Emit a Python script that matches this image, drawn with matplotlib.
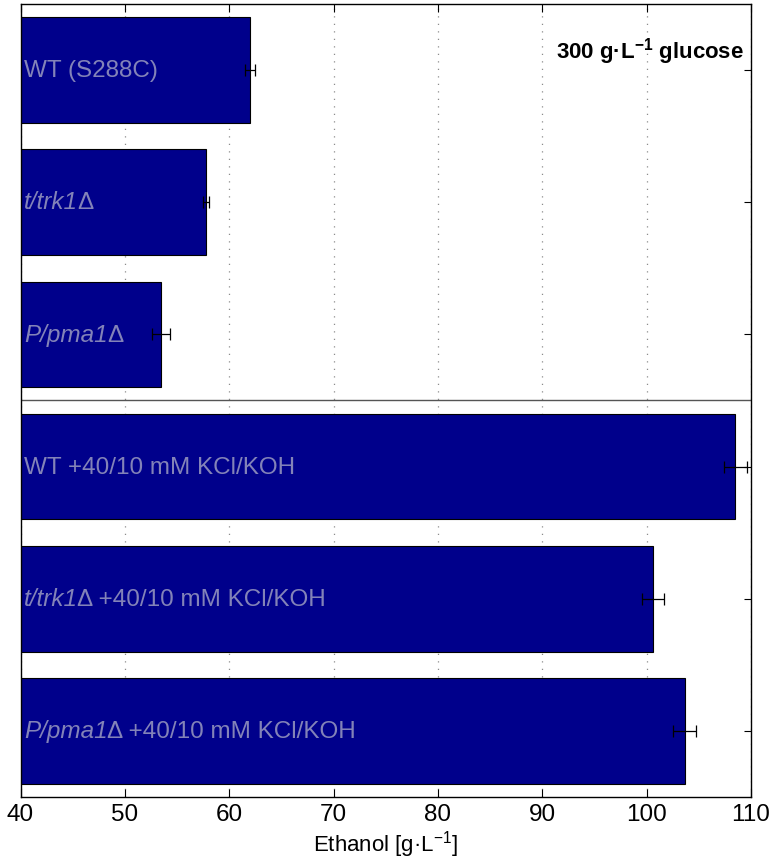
#!/usr/bin/env python3
"""Ethanol titres of the WT and transporter mutants at 300 g/L glucose."""

import matplotlib
matplotlib.use('Agg')
import matplotlib.pyplot as plt
import matplotlib.transforms as mtransforms
import numpy as np

plt.rcParams['font.family'] = ['Liberation Sans', 'DejaVu Sans']
plt.rcParams['mathtext.fontset'] = 'custom'
plt.rcParams['mathtext.rm'] = 'Liberation Sans'
plt.rcParams['mathtext.it'] = 'Liberation Sans:italic'
plt.rcParams['mathtext.bf'] = 'Liberation Sans:bold'

# Strains (top to bottom): italic gene part + upright remainder
STRAIN_ITALIC = ['', 't/trk1', 'P/pma1', '', 't/trk1', 'P/pma1']
STRAIN_PLAIN = [
    'WT (S288C)',
    'Δ',
    'Δ',
    'WT +40/10 mM KCl/KOH',
    'Δ +40/10 mM KCl/KOH',
    'Δ +40/10 mM KCl/KOH',
]
ETHANOL = [62.0, 57.75, 53.45, 108.5, 100.65, 103.65]
ETHANOL_ERR = [0.5, 0.3, 0.85, 1.1, 1.05, 1.1]
XTICKS = [40, 50, 60, 70, 80, 90, 100, 110]

BAR_COLOR = '#00008b'
LABEL_COLOR = '#8383b8'
LABEL_SIZE = 17.5


def main():
    fig = plt.figure(figsize=(7.72, 8.63), dpi=100)
    ax = fig.add_axes([0.0266, 0.0765, 0.9462, 0.9189])

    y = np.arange(1, len(ETHANOL) + 1)
    ax.barh(y, ETHANOL, height=0.8, left=0, color=BAR_COLOR,
            edgecolor='black', linewidth=0.8, zorder=2)
    ax.errorbar(ETHANOL, y, xerr=ETHANOL_ERR, fmt='none', ecolor='black',
                elinewidth=0.9, capsize=4.5, capthick=0.9, zorder=3)

    ax.set_xlim(40, 110)
    ax.set_ylim(6.5, 0.5)

    # strain names inside the bars; italic part first, then the rest after it
    renderer = fig.canvas.get_renderer()
    for yi, ital, plain in zip(y, STRAIN_ITALIC, STRAIN_PLAIN):
        yb = yi + 0.055
        shift = 0
        if ital:
            t = ax.text(40.35, yb, ital, color=LABEL_COLOR, fontsize=LABEL_SIZE,
                        style='italic', ha='left', va='baseline', zorder=4)
            shift = t.get_window_extent(renderer).width - 1
        trans = mtransforms.offset_copy(ax.transData, fig=fig, x=shift, y=0, units='dots')
        ax.text(40.35, yb, plain, color=LABEL_COLOR, fontsize=LABEL_SIZE,
                ha='left', va='baseline', transform=trans, zorder=4)

    # separator between plain and KCl/KOH supplemented media
    ax.axhline(3.5, color='#555555', linewidth=1.0, zorder=2.6)

    ax.text(0.99, 0.94, r'300 g·L$^{\mathbf{-1}}$ glucose', transform=ax.transAxes,
            ha='right', va='center', fontsize=16, fontweight='bold')

    ax.set_xticks(XTICKS)
    ax.set_yticks(y)
    ax.set_yticklabels([])
    ax.yaxis.set_ticks_position('right')
    ax.tick_params(axis='x', which='both', direction='in', top=True, bottom=True,
                   length=6, width=0.8, labelsize=17.5, pad=5)
    ax.tick_params(axis='y', direction='in', length=5, width=0.8)

    ax.grid(axis='x', color='#8c8c8c', linestyle=(0, (1, 5)), linewidth=0.9)
    ax.set_axisbelow(True)
    for sp in ax.spines.values():
        sp.set_linewidth(1.0)
        sp.set_zorder(5)

    ax.set_xlabel(r'Ethanol [g·L$^{-1}$]', fontsize=16, labelpad=2)

    fig.savefig('out.png', dpi=100)
    plt.close(fig)


if __name__ == '__main__':
    main()
